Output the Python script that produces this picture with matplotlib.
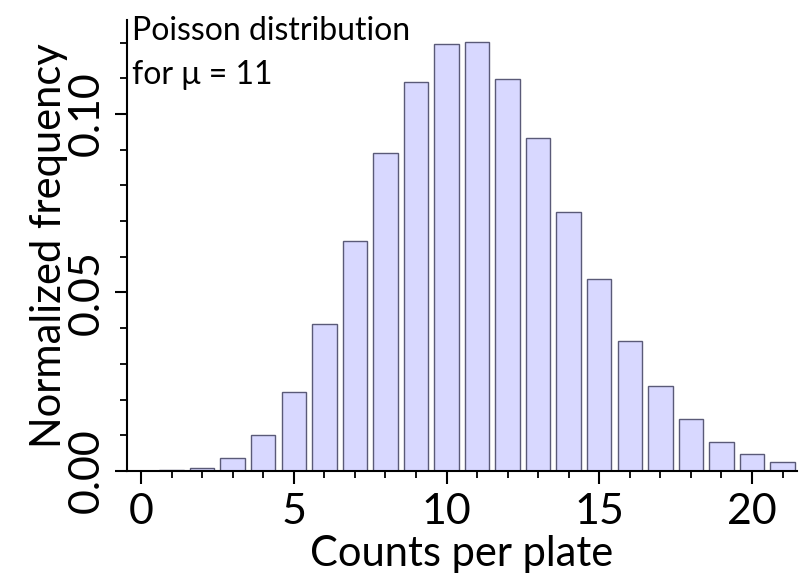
import matplotlib.pyplot as plt
import numpy as np
from matplotlib.ticker import MultipleLocator

plt.rcParams['font.family'] = ['Lato', 'DejaVu Sans']

# counts per plate and normalized frequency
counts = np.arange(0, 22)
freq = [0.00002, 0.0002, 0.00095, 0.0036, 0.0100, 0.0222, 0.0413, 0.0644,
        0.0891, 0.1090, 0.1197, 0.1201, 0.1098, 0.0932, 0.0726, 0.0538,
        0.0365, 0.0238, 0.0147, 0.0082, 0.0047, 0.0024]

fig = plt.figure(figsize=(8.09, 5.73), dpi=100)
ax = fig.add_axes([0.157, 0.178, 0.828, 0.787])

ax.bar(counts, freq, width=0.8, color='#d8d8ff', edgecolor='#5a5a78', linewidth=1.0)

ax.set_xlim(-0.46, 21.47)
ax.set_ylim(0, 0.1263)

ax.spines['top'].set_visible(False)
ax.spines['right'].set_visible(False)
for s in ['left', 'bottom']:
    ax.spines[s].set_linewidth(1.5)

ax.xaxis.set_major_locator(MultipleLocator(5))
ax.xaxis.set_minor_locator(MultipleLocator(1))
ax.yaxis.set_major_locator(MultipleLocator(0.05))
ax.yaxis.set_minor_locator(MultipleLocator(0.01))
ax.tick_params(which='major', length=9, width=1.5, direction='out', labelsize=31)
ax.tick_params(which='minor', length=5, width=1.3, direction='out')
ax.tick_params(axis='x', pad=7)
ax.tick_params(axis='y', pad=6)
ax.yaxis.set_major_formatter(plt.FuncFormatter(lambda v, p: f'{v:.2f}'))
for lab in ax.get_yticklabels():
    lab.set_rotation(90)
    lab.set_va('center')

ax.set_xlabel('Counts per plate', fontsize=30, labelpad=3)
ax.set_ylabel('Normalized frequency', fontsize=30, labelpad=0)

ax.text(0.008, 1.01, 'Poisson distribution\nfor \u03bc = 11', transform=ax.transAxes,
        fontsize=23, ha='left', va='top', linespacing=1.6)

fig.savefig('out.png', dpi=100)
